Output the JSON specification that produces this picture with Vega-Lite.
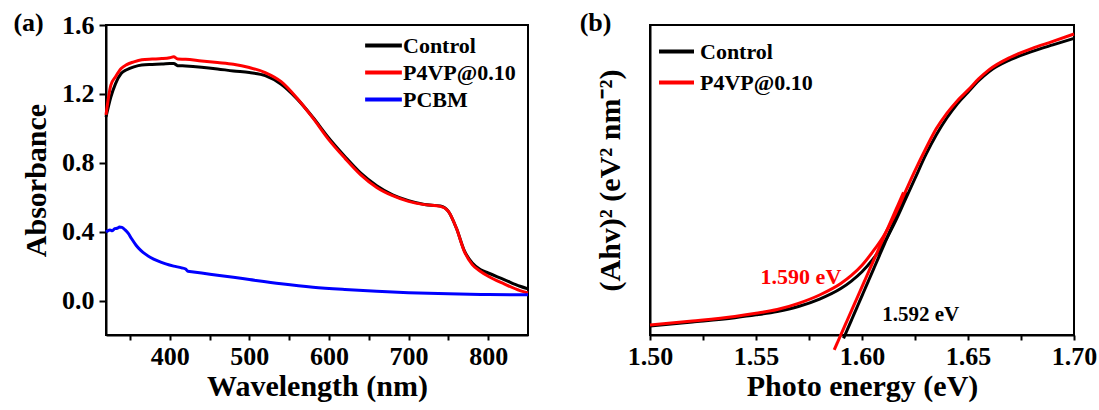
{
  "$schema": "https://vega.github.io/schema/vega-lite/v6.json",
  "background": "white",
  "padding": {"left": 12, "top": 8, "right": 2, "bottom": 2},
  "spacing": 43,
  "datasets": {
    "abs": [
      {"wl": 320, "A": 1.066, "s": "Control"}, {"wl": 326, "A": 1.18, "s": "Control"}, {"wl": 332, "A": 1.26, "s": "Control"},
      {"wl": 339, "A": 1.318, "s": "Control"}, {"wl": 346, "A": 1.34, "s": "Control"}, {"wl": 355, "A": 1.357, "s": "Control"},
      {"wl": 365, "A": 1.368, "s": "Control"}, {"wl": 378, "A": 1.371, "s": "Control"}, {"wl": 390, "A": 1.373, "s": "Control"},
      {"wl": 400, "A": 1.376, "s": "Control"}, {"wl": 405, "A": 1.377, "s": "Control"}, {"wl": 410, "A": 1.364, "s": "Control"},
      {"wl": 420, "A": 1.362, "s": "Control"}, {"wl": 440, "A": 1.355, "s": "Control"}, {"wl": 460, "A": 1.345, "s": "Control"},
      {"wl": 480, "A": 1.333, "s": "Control"}, {"wl": 500, "A": 1.324, "s": "Control"}, {"wl": 520, "A": 1.306, "s": "Control"},
      {"wl": 540, "A": 1.256, "s": "Control"}, {"wl": 560, "A": 1.171, "s": "Control"}, {"wl": 580, "A": 1.063, "s": "Control"},
      {"wl": 600, "A": 0.943, "s": "Control"}, {"wl": 620, "A": 0.837, "s": "Control"}, {"wl": 640, "A": 0.74, "s": "Control"},
      {"wl": 660, "A": 0.667, "s": "Control"}, {"wl": 680, "A": 0.614, "s": "Control"}, {"wl": 700, "A": 0.58, "s": "Control"},
      {"wl": 720, "A": 0.558, "s": "Control"}, {"wl": 740, "A": 0.549, "s": "Control"}, {"wl": 750, "A": 0.518, "s": "Control"},
      {"wl": 760, "A": 0.421, "s": "Control"}, {"wl": 770, "A": 0.29, "s": "Control"}, {"wl": 780, "A": 0.218, "s": "Control"},
      {"wl": 790, "A": 0.18, "s": "Control"}, {"wl": 800, "A": 0.16, "s": "Control"}, {"wl": 820, "A": 0.122, "s": "Control"},
      {"wl": 840, "A": 0.083, "s": "Control"}, {"wl": 850, "A": 0.068, "s": "Control"},
      {"wl": 320, "A": 1.078, "s": "P4VP@0.10"}, {"wl": 326, "A": 1.25, "s": "P4VP@0.10"}, {"wl": 332, "A": 1.3, "s": "P4VP@0.10"},
      {"wl": 339, "A": 1.347, "s": "P4VP@0.10"}, {"wl": 346, "A": 1.37, "s": "P4VP@0.10"}, {"wl": 355, "A": 1.386, "s": "P4VP@0.10"},
      {"wl": 365, "A": 1.398, "s": "P4VP@0.10"}, {"wl": 378, "A": 1.402, "s": "P4VP@0.10"}, {"wl": 390, "A": 1.405, "s": "P4VP@0.10"},
      {"wl": 400, "A": 1.41, "s": "P4VP@0.10"}, {"wl": 405, "A": 1.415, "s": "P4VP@0.10"}, {"wl": 410, "A": 1.403, "s": "P4VP@0.10"},
      {"wl": 420, "A": 1.401, "s": "P4VP@0.10"}, {"wl": 440, "A": 1.391, "s": "P4VP@0.10"}, {"wl": 460, "A": 1.382, "s": "P4VP@0.10"},
      {"wl": 480, "A": 1.372, "s": "P4VP@0.10"}, {"wl": 500, "A": 1.353, "s": "P4VP@0.10"}, {"wl": 520, "A": 1.324, "s": "P4VP@0.10"},
      {"wl": 540, "A": 1.271, "s": "P4VP@0.10"}, {"wl": 560, "A": 1.175, "s": "P4VP@0.10"}, {"wl": 580, "A": 1.059, "s": "P4VP@0.10"},
      {"wl": 600, "A": 0.933, "s": "P4VP@0.10"}, {"wl": 620, "A": 0.827, "s": "P4VP@0.10"}, {"wl": 640, "A": 0.73, "s": "P4VP@0.10"},
      {"wl": 660, "A": 0.657, "s": "P4VP@0.10"}, {"wl": 680, "A": 0.609, "s": "P4VP@0.10"}, {"wl": 700, "A": 0.576, "s": "P4VP@0.10"},
      {"wl": 720, "A": 0.557, "s": "P4VP@0.10"}, {"wl": 740, "A": 0.547, "s": "P4VP@0.10"}, {"wl": 750, "A": 0.518, "s": "P4VP@0.10"},
      {"wl": 760, "A": 0.421, "s": "P4VP@0.10"}, {"wl": 770, "A": 0.286, "s": "P4VP@0.10"}, {"wl": 780, "A": 0.209, "s": "P4VP@0.10"},
      {"wl": 790, "A": 0.17, "s": "P4VP@0.10"}, {"wl": 800, "A": 0.141, "s": "P4VP@0.10"}, {"wl": 820, "A": 0.097, "s": "P4VP@0.10"},
      {"wl": 840, "A": 0.058, "s": "P4VP@0.10"}, {"wl": 850, "A": 0.044, "s": "P4VP@0.10"},
      {"wl": 320, "A": 0.398, "s": "PCBM"}, {"wl": 325, "A": 0.41, "s": "PCBM"}, {"wl": 328, "A": 0.405, "s": "PCBM"},
      {"wl": 331, "A": 0.418, "s": "PCBM"}, {"wl": 334, "A": 0.42, "s": "PCBM"}, {"wl": 337, "A": 0.427, "s": "PCBM"},
      {"wl": 340, "A": 0.425, "s": "PCBM"}, {"wl": 344, "A": 0.41, "s": "PCBM"}, {"wl": 348, "A": 0.39, "s": "PCBM"},
      {"wl": 352, "A": 0.36, "s": "PCBM"}, {"wl": 358, "A": 0.32, "s": "PCBM"}, {"wl": 364, "A": 0.29, "s": "PCBM"},
      {"wl": 370, "A": 0.268, "s": "PCBM"}, {"wl": 376, "A": 0.25, "s": "PCBM"}, {"wl": 385, "A": 0.23, "s": "PCBM"},
      {"wl": 395, "A": 0.213, "s": "PCBM"}, {"wl": 405, "A": 0.2, "s": "PCBM"}, {"wl": 415, "A": 0.19, "s": "PCBM"},
      {"wl": 420, "A": 0.183, "s": "PCBM"}, {"wl": 423, "A": 0.17, "s": "PCBM"}, {"wl": 430, "A": 0.166, "s": "PCBM"},
      {"wl": 440, "A": 0.16, "s": "PCBM"}, {"wl": 460, "A": 0.147, "s": "PCBM"}, {"wl": 480, "A": 0.135, "s": "PCBM"},
      {"wl": 500, "A": 0.122, "s": "PCBM"}, {"wl": 540, "A": 0.097, "s": "PCBM"}, {"wl": 580, "A": 0.077, "s": "PCBM"},
      {"wl": 620, "A": 0.064, "s": "PCBM"}, {"wl": 660, "A": 0.054, "s": "PCBM"}, {"wl": 700, "A": 0.046, "s": "PCBM"},
      {"wl": 750, "A": 0.039, "s": "PCBM"}, {"wl": 800, "A": 0.035, "s": "PCBM"}, {"wl": 850, "A": 0.033, "s": "PCBM"}
    ],
    "tauc": [
      {"E": 1.5, "y": 2.9, "s": "Control", "k": "curve"}, {"E": 1.52, "y": 4.2, "s": "Control", "k": "curve"},
      {"E": 1.54, "y": 5.6, "s": "Control", "k": "curve"}, {"E": 1.55, "y": 6.5, "s": "Control", "k": "curve"},
      {"E": 1.56, "y": 7.6, "s": "Control", "k": "curve"}, {"E": 1.57, "y": 9.2, "s": "Control", "k": "curve"},
      {"E": 1.58, "y": 11.6, "s": "Control", "k": "curve"}, {"E": 1.59, "y": 15, "s": "Control", "k": "curve"},
      {"E": 1.595, "y": 17.4, "s": "Control", "k": "curve"}, {"E": 1.6, "y": 20.4, "s": "Control", "k": "curve"},
      {"E": 1.605, "y": 24.3, "s": "Control", "k": "curve"}, {"E": 1.61, "y": 29.2, "s": "Control", "k": "curve"},
      {"E": 1.615, "y": 35.6, "s": "Control", "k": "curve"}, {"E": 1.62, "y": 43, "s": "Control", "k": "curve"},
      {"E": 1.625, "y": 50.5, "s": "Control", "k": "curve"}, {"E": 1.63, "y": 58, "s": "Control", "k": "curve"},
      {"E": 1.635, "y": 64.5, "s": "Control", "k": "curve"}, {"E": 1.64, "y": 70, "s": "Control", "k": "curve"},
      {"E": 1.645, "y": 74.6, "s": "Control", "k": "curve"}, {"E": 1.65, "y": 78.3, "s": "Control", "k": "curve"},
      {"E": 1.655, "y": 82, "s": "Control", "k": "curve"}, {"E": 1.66, "y": 85, "s": "Control", "k": "curve"},
      {"E": 1.67, "y": 88.8, "s": "Control", "k": "curve"}, {"E": 1.68, "y": 91.4, "s": "Control", "k": "curve"},
      {"E": 1.69, "y": 93.6, "s": "Control", "k": "curve"}, {"E": 1.7, "y": 95.7, "s": "Control", "k": "curve"},
      {"E": 1.5913, "y": -1.1, "s": "Control", "k": "fit"}, {"E": 1.6211, "y": 46, "s": "Control", "k": "fit"},
      {"E": 1.5, "y": 3.2, "s": "P4VP@0.10", "k": "curve"}, {"E": 1.52, "y": 4.5, "s": "P4VP@0.10", "k": "curve"},
      {"E": 1.54, "y": 6, "s": "P4VP@0.10", "k": "curve"}, {"E": 1.55, "y": 7, "s": "P4VP@0.10", "k": "curve"},
      {"E": 1.56, "y": 8.2, "s": "P4VP@0.10", "k": "curve"}, {"E": 1.57, "y": 10.2, "s": "P4VP@0.10", "k": "curve"},
      {"E": 1.58, "y": 12.9, "s": "P4VP@0.10", "k": "curve"}, {"E": 1.59, "y": 16.6, "s": "P4VP@0.10", "k": "curve"},
      {"E": 1.595, "y": 19.2, "s": "P4VP@0.10", "k": "curve"}, {"E": 1.6, "y": 22.5, "s": "P4VP@0.10", "k": "curve"},
      {"E": 1.605, "y": 26.8, "s": "P4VP@0.10", "k": "curve"}, {"E": 1.61, "y": 31.7, "s": "P4VP@0.10", "k": "curve"},
      {"E": 1.615, "y": 38, "s": "P4VP@0.10", "k": "curve"}, {"E": 1.62, "y": 45.5, "s": "P4VP@0.10", "k": "curve"},
      {"E": 1.625, "y": 53, "s": "P4VP@0.10", "k": "curve"}, {"E": 1.63, "y": 60, "s": "P4VP@0.10", "k": "curve"},
      {"E": 1.635, "y": 66.5, "s": "P4VP@0.10", "k": "curve"}, {"E": 1.64, "y": 71.5, "s": "P4VP@0.10", "k": "curve"},
      {"E": 1.645, "y": 75.6, "s": "P4VP@0.10", "k": "curve"}, {"E": 1.65, "y": 79, "s": "P4VP@0.10", "k": "curve"},
      {"E": 1.655, "y": 82.6, "s": "P4VP@0.10", "k": "curve"}, {"E": 1.66, "y": 85.6, "s": "P4VP@0.10", "k": "curve"},
      {"E": 1.67, "y": 89.6, "s": "P4VP@0.10", "k": "curve"}, {"E": 1.68, "y": 92.4, "s": "P4VP@0.10", "k": "curve"},
      {"E": 1.69, "y": 94.7, "s": "P4VP@0.10", "k": "curve"}, {"E": 1.7, "y": 97.1, "s": "P4VP@0.10", "k": "curve"},
      {"E": 1.5869, "y": -4.8, "s": "P4VP@0.10", "k": "fit"}, {"E": 1.6196, "y": 46, "s": "P4VP@0.10", "k": "fit"}
    ],
    "notes": [
      {"E": 1.5712, "y": 18.7, "label": "1.590 eV", "s": "P4VP@0.10"},
      {"E": 1.6277, "y": 6.4, "label": "1.592 eV", "s": "Control"}
    ],
    "panels": [{"tag": "(a)"}, {"tag": "(b)"}]
  },
  "hconcat": [
    {
      "width": 422,
      "height": 310,
      "layer": [
        {
          "data": {"name": "abs"},
          "mark": {"type": "line", "strokeWidth": 3, "interpolate": "monotone"},
          "encoding": {
            "x": {"field": "wl", "type": "quantitative",
              "scale": {"domain": [320, 850], "nice": false, "zero": false},
              "axis": {"title": "Wavelength (nm)", "values": [350, 400, 450, 500, 550, 600, 650, 700, 750, 800],
                "labelExpr": "datum.value % 100 === 0 ? datum.label : ''", "tickSize": 5, "labelPadding": 3, "titlePadding": 2}},
            "y": {"field": "A", "type": "quantitative",
              "scale": {"domain": [-0.2, 1.6], "nice": false, "zero": false},
              "axis": {"title": "Absorbance", "values": [0, 0.2, 0.4, 0.6, 0.8, 1.0, 1.2, 1.4, 1.6], "format": ".1f",
                "labelExpr": "round(datum.value * 10) % 4 === 0 ? datum.label : ''",
                "tickSize": {"condition": {"test": "round(datum.value * 10) % 4 === 0", "value": 7}, "value": 4},
                "labelPadding": 5, "titlePadding": 10}},
            "color": {"field": "s", "type": "nominal",
              "scale": {"domain": ["Control", "P4VP@0.10", "PCBM"], "range": ["#000000", "#ff0000", "#0000ff"]},
              "legend": {"title": null, "orient": "none", "legendX": 257, "legendY": 0, "symbolType": "stroke",
                "symbolSize": 1350, "symbolStrokeWidth": 4, "labelFontSize": 22, "labelOffset": -1, "rowPadding": -5,
                "gridAlign": "none", "padding": 0}}
          }
        },
        {
          "data": {"name": "panels"},
          "transform": [{"filter": "datum.tag === '(a)'"}],
          "mark": {"type": "text", "fontSize": 26, "fontWeight": "bold", "color": "#000000"},
          "encoding": {
            "x": {"datum": 222.8, "type": "quantitative"},
            "y": {"datum": 1.613, "type": "quantitative"},
            "text": {"field": "tag"}
          }
        }
      ]
    },
    {
      "width": 424,
      "height": 310,
      "layer": [
        {
          "data": {"name": "tauc"},
          "mark": {"type": "line", "strokeWidth": 3, "interpolate": "monotone"},
          "encoding": {
            "x": {"field": "E", "type": "quantitative",
              "scale": {"domain": [1.5, 1.7], "nice": false, "zero": false},
              "axis": {"title": "Photo energy (eV)", "values": [1.5, 1.525, 1.55, 1.575, 1.6, 1.625, 1.65, 1.675, 1.7], "format": ".2f",
                "labelExpr": "round(datum.value * 1000) % 50 === 0 ? datum.label : ''", "tickSize": 5, "labelPadding": 3, "titlePadding": 2}},
            "y": {"field": "y", "type": "quantitative",
              "scale": {"domain": [0, 100], "nice": false, "zero": false},
              "axis": {"title": "(Ahv)² (eV² nm⁻²)", "labels": false, "ticks": false, "titlePadding": 25}},
            "color": {"field": "s", "type": "nominal",
              "scale": {"domain": ["Control", "P4VP@0.10"], "range": ["#000000", "#ff0000"]},
              "legend": {"title": null, "orient": "none", "legendX": 7, "legendY": 7, "symbolType": "stroke",
                "symbolSize": 1225, "symbolStrokeWidth": 4, "labelFontSize": 22, "labelOffset": 4, "rowPadding": -4, "padding": 0}},
            "detail": {"field": "k", "type": "nominal"}
          }
        },
        {
          "data": {"name": "notes"},
          "transform": [{"filter": "datum.s === 'P4VP@0.10'"}],
          "mark": {"type": "text", "fontSize": 22, "fontWeight": "bold", "color": "#ff0000"},
          "encoding": {
            "x": {"field": "E", "type": "quantitative"},
            "y": {"field": "y", "type": "quantitative"},
            "text": {"field": "label"}
          }
        },
        {
          "data": {"name": "notes"},
          "transform": [{"filter": "datum.s === 'Control'"}],
          "mark": {"type": "text", "fontSize": 21, "fontWeight": "bold", "color": "#000000"},
          "encoding": {
            "x": {"field": "E", "type": "quantitative"},
            "y": {"field": "y", "type": "quantitative"},
            "text": {"field": "label"}
          }
        },
        {
          "data": {"name": "panels"},
          "transform": [{"filter": "datum.tag === '(b)'"}],
          "mark": {"type": "text", "fontSize": 26, "fontWeight": "bold", "color": "#000000"},
          "encoding": {
            "x": {"datum": 1.4743, "type": "quantitative"},
            "y": {"datum": 100.5, "type": "quantitative"},
            "text": {"field": "tag"}
          }
        }
      ]
    }
  ],
  "resolve": {"scale": {"color": "independent"}},
  "config": {
    "font": "Liberation Serif",
    "view": {"stroke": "#000000", "strokeWidth": 2},
    "text": {"font": "Liberation Serif"},
    "axis": {
      "grid": false,
      "labelFont": "Liberation Serif", "labelFontWeight": "bold", "labelFontSize": 26, "labelColor": "#000000",
      "titleFont": "Liberation Serif", "titleFontWeight": "bold", "titleFontSize": 30, "titleColor": "#000000",
      "domainColor": "#000000", "domainWidth": 2, "tickColor": "#000000", "tickWidth": 2, "labelFlush": false, "labelOverlap": false
    },
    "legend": {"labelFont": "Liberation Serif", "labelFontWeight": "bold", "labelColor": "#000000"}
  }
}
